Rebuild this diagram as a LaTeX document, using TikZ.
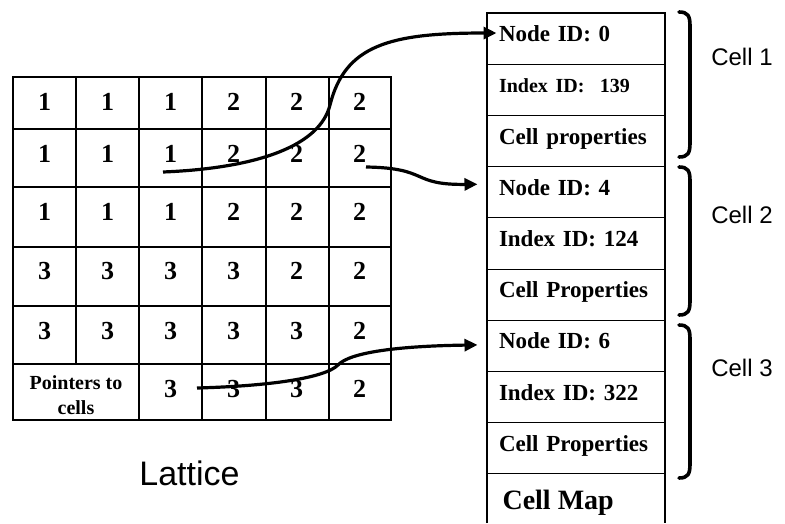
\documentclass[tikz,border=0pt]{standalone}
\usepackage{fontspec}
\setmainfont{Liberation Serif}
\setsansfont{Liberation Sans}
\usetikzlibrary{arrows.meta}

\begin{document}
\begin{tikzpicture}[x=1pt,y=-1pt,
  cellline/.style={line width=1.1pt},
  frame/.style={line width=2.6pt},
  num/.style={font=\fontsize{26}{30}\selectfont\bfseries},
  field/.style={draw,line width=1pt,minimum width=178pt,minimum height=51.2pt,
    text width=154pt,inner xsep=12pt,inner ysep=0pt,align=left,
    text height=15pt,text depth=9pt,font=\fontsize{23}{27}\selectfont\bfseries},
  pointer/.style={line width=3.2pt,-{Triangle[length=13pt,width=12pt]}},
  curly/.style={line width=3.6pt,line cap=round},
  celltag/.style={font=\sffamily\fontsize{24}{28}\selectfont}]
\useasboundingbox (0,0) rectangle (785,523);
\draw[cellline] (76,77) -- (76,364);
\foreach \x in {139,202,266,329} \draw[cellline] (\x,77) -- (\x,420);
\foreach \y in {129,187,247,306,364} \draw[cellline] (13,\y) -- (391,\y);
\draw[frame] (13,77) rectangle (391,420);
\foreach \v [count=\c] in {1,1,1,2,2,2} \node[num] (n-1-\c) at ({-18.5+63*\c},102) {\v};
\foreach \v [count=\c] in {1,1,1,2,2,2} \node[num] (n-2-\c) at ({-18.5+63*\c},154) {\v};
\foreach \v [count=\c] in {1,1,1,2,2,2} \node[num] (n-3-\c) at ({-18.5+63*\c},212) {\v};
\foreach \v [count=\c] in {3,3,3,3,2,2} \node[num] (n-4-\c) at ({-18.5+63*\c},271) {\v};
\foreach \v [count=\c] in {3,3,3,3,3,2} \node[num] (n-5-\c) at ({-18.5+63*\c},331) {\v};
\foreach \v [count=\c from 3] in {3,3,3,2} \node[num] (n-6-\c) at ({-18.5+63*\c},389) {\v};
\node[align=center,font=\fontsize{20}{25}\selectfont\bfseries] (ptr) at (76,395) {Pointers to\\cells};
\node[font=\sffamily\fontsize{34}{38}\selectfont,anchor=base] (lattice) at (189.5,485) {Lattice};
\foreach \t [count=\i] in {Node ID: 0,{\fontsize{20}{24}\selectfont Index ID:\ \ 139},Cell properties,
  Node ID: 4,Index ID: 124,Cell Properties,Node ID: 6,Index ID: 322,Cell Properties}
  \node[field] (f\i) at (576,{13+51.22*(\i-0.5)}) {\t};
\node[anchor=base west,font=\fontsize{28}{32}\selectfont\bfseries] (map) at (499,509) {Cell Map};
\draw[frame] (487,523) -- (487,13) -- (665,13) -- (665,523);
\foreach \a/\b in {12/157,167/315,325/478}
  \draw[curly] (679,\a) .. controls (688,\a) and (690,\a+4) .. (690,\a+14) -- (690,\b-14)
    .. controls (690,\b-4) and (688,\b) .. (679,\b);
\node[celltag] (cell1) at (742,57) {Cell 1};
\node[celltag] (cell2) at (742,215) {Cell 2};
\node[celltag] (cell3) at (742,368) {Cell 3};
\path (163,172) coordinate(p1)
(366,167) coordinate(p2)
(197,388) coordinate(p3);
\draw[pointer] (p1) .. controls (260,168) and (320,145) .. (330,105)
  .. controls (345,45) and (390,33) .. ([shift={(10,-5.6)}]f1.west);
\draw[pointer] (p2) .. controls (430,168) and (410,185) .. ([shift={(-9,-8)}]f4.west);
\draw[pointer] (p3) .. controls (270,386) and (325,378) .. (338,365)
  .. controls (350,352) and (400,346) .. ([shift={(-9,-1)}]f7.west);
\end{tikzpicture}
\end{document}
